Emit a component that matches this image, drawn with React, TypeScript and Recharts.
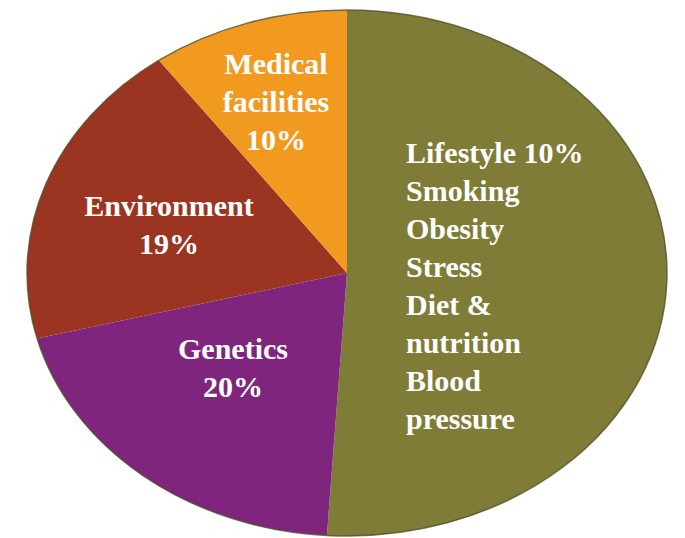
import React from 'react';
import { PieChart, Pie, Cell } from 'recharts';

const categories = ['Lifestyle', 'Genetics', 'Environment', 'Medical facilities'];
const shares = [51, 20, 19, 10];
const labelLines = [
  ['Lifestyle 10%', 'Smoking', 'Obesity', 'Stress', 'Diet &', 'nutrition', 'Blood', 'pressure'],
  ['Genetics', '20%'],
  ['Environment', '19%'],
  ['Medical', 'facilities', '10%'],
];
const colors = ['#7e7c36', '#80257e', '#9b3522', '#f29a1f'];

// label layout (offsets from the pie centre), kept apart from the data
const labelLayout = [
  { dx: 59, dy: -110, anchor: 'start' },
  { dx: -114, dy: 86, anchor: 'middle' },
  { dx: -178, dy: -57, anchor: 'middle' },
  { dx: -71, dy: -199, anchor: 'middle' },
];

const data = categories.map((name, i) => ({ name, value: shares[i] }));

const SX = 320 / 263; // horizontal stretch of the ellipse
const RAD = Math.PI / 180;
const LINE_H = 38;

function pt(cx: number, cy: number, rx: number, ry: number, a: number) {
  return [cx + rx * Math.cos(-a * RAD), cy + ry * Math.sin(-a * RAD)];
}

const EllipseSector = (props: any) => {
  const { cx, cy, outerRadius, startAngle, endAngle, fill } = props;
  const ry = outerRadius;
  const rx = outerRadius * SX;
  const [x0, y0] = pt(cx, cy, rx, ry, startAngle);
  const [x1, y1] = pt(cx, cy, rx, ry, endAngle);
  const large = Math.abs(endAngle - startAngle) > 180 ? 1 : 0;
  const sweep = startAngle > endAngle ? 1 : 0;
  const arc = `A ${rx} ${ry} 0 ${large} ${sweep} ${x1} ${y1}`;
  return (
    <g>
      <path d={`M ${cx} ${cy} L ${x0} ${y0} ${arc} Z`} fill={fill} stroke="none" />
      <path d={`M ${x0} ${y0} ${arc}`} fill="none" stroke="#4e4b2a" strokeOpacity={0.75} strokeWidth={1.5} />
    </g>
  );
};

const renderLabel = (props: any) => {
  const { cx, cy, index } = props;
  const lay = labelLayout[index];
  const lines = labelLines[index];
  return (
    <text
      x={cx + lay.dx}
      y={cy + lay.dy}
      textAnchor={lay.anchor}
      fill="#ffffff"
      fontFamily="'Liberation Serif', 'Times New Roman', serif"
      fontWeight="bold"
      fontSize={30}
    >
      {lines.map((l, i) => (
        <tspan key={i} x={cx + lay.dx} y={cy + lay.dy + i * LINE_H}>
          {l}
        </tspan>
      ))}
    </text>
  );
};

export default function App() {
  return (
    <div style={{ position: 'absolute', left: 0, top: 0, width: 685, height: 538, background: '#ffffff' }}>
      <PieChart width={685} height={538} margin={{ top: 0, right: 0, bottom: 0, left: 0 }}>
        <Pie
          data={data}
          dataKey="value"
          nameKey="name"
          cx={347}
          cy={273}
          outerRadius={263}
          startAngle={90}
          endAngle={-270}
          isAnimationActive={false}
          shape={EllipseSector}
          activeShape={EllipseSector}
          inactiveShape={EllipseSector}
          label={renderLabel}
          labelLine={false}
          stroke="none"
        >
          {data.map((d, i) => (
            <Cell key={d.name} fill={colors[i]} />
          ))}
        </Pie>
      </PieChart>
    </div>
  );
}
